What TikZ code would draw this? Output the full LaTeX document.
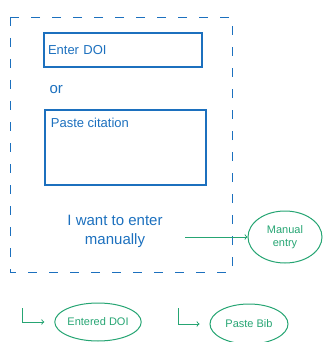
\documentclass[tikz,border=0pt]{standalone}
\usepackage{fontspec}
\setmainfont{Liberation Sans}
\usetikzlibrary{shapes.geometric, arrows}
\definecolor{penblue}{RGB}{28,112,190}
\definecolor{pengreen}{RGB}{38,165,115}
\tikzstyle{inputbox} = [
    rectangle,
    draw=penblue,
    line width=1.3pt,
    minimum width=158pt,
    minimum height=34pt,
    text width=150pt,
    align=left,
    font=\fontsize{13}{15}\selectfont,
    text=penblue
]
\tikzstyle{note} = [
    align=center,
    font=\fontsize{15}{19}\selectfont,
    text=penblue
]
\tikzstyle{outcome} = [
    ellipse,
    draw=pengreen,
    line width=1pt,
    align=center,
    inner sep=0pt,
    font=\fontsize{11}{13}\selectfont,
    text=pengreen
]
\tikzstyle{frame} = [penblue, thick, dash pattern=on 9pt off 12pt]
\tikzstyle{arrow} = [pengreen, line width=1pt, ->, >=to]
\tikzstyle{hook} = [pengreen, line width=1pt, ->, >=to, shorten >=10pt]

\begin{document}
\begin{tikzpicture}[x=1pt, y=-1pt]
\useasboundingbox (0,0) rectangle (322,342);

% dashed frame round the input form
\draw [frame] (10,17) rectangle (232,272);

\node (doi) [inputbox] at (123,50) {Enter DOI};

\node (or) [note, anchor=west] at (46,90) {or};

\node (cite) [inputbox, minimum width=161pt, minimum height=75pt,
  label={[anchor=north west, text=penblue, font=\fontsize{13}{15}\selectfont,
  xshift=3pt, yshift=-5pt]north west:Paste citation}] at (125.5,147.5) {};

\node (manual) [note] at (115,231) {I want to enter\\manually};

\node (entry) [outcome, minimum width=74pt, minimum height=52pt]
  at (285,237) {Manual\\entry};

\node (entered) [outcome, minimum width=86pt, minimum height=38pt]
  at (98,322) {Entered DOI};

\node (bib) [outcome, minimum width=78pt, minimum height=40pt]
  at (249,324) {Paste Bib};

\coordinate (from) at (185,237);
\coordinate (h1) at (22,308);
\coordinate (h2) at (178,308);

\draw [arrow] (from) -- (entry.west);
\draw [hook] (h1) |- (entered.west);
\draw [hook] (h2) |- (bib.west);

\end{tikzpicture}
\end{document}
